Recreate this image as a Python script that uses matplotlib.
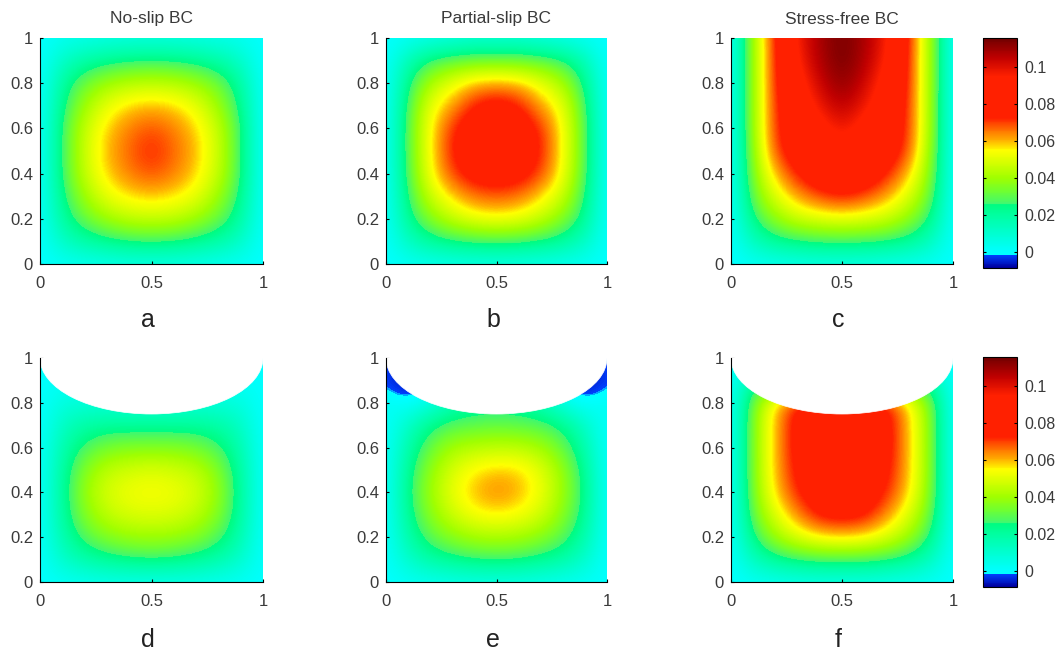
import numpy as np
import matplotlib
matplotlib.use('Agg')
import matplotlib.pyplot as plt
from matplotlib.colors import LinearSegmentedColormap, Normalize
from matplotlib.cm import ScalarMappable
from matplotlib.patches import Ellipse

plt.rcParams['font.family'] = ['Liberation Sans', 'DejaVu Sans']

W, H = 1057, 656
TEXT = '#3a3a3a'

# rows run from y=1 down to y=0, columns from x=0 to x=1, steps of 0.1
panel_a = [
    [0, .003, .004, .005, .006, .006, .006, .005, .004, .003, 0],
    [0, .012, .019, .023, .025, .026, .025, .023, .019, .012, 0],
    [0, .020, .033, .040, .044, .045, .044, .040, .033, .020, 0],
    [0, .024, .040, .052, .058, .060, .058, .052, .040, .024, 0],
    [0, .027, .046, .058, .065, .069, .065, .058, .046, .027, 0],
    [0, .027, .047, .060, .067, .073, .067, .060, .047, .027, 0],
    [0, .027, .046, .058, .065, .069, .065, .058, .046, .027, 0],
    [0, .024, .040, .052, .057, .059, .057, .052, .040, .024, 0],
    [0, .020, .032, .040, .045, .046, .045, .040, .032, .020, 0],
    [0, .012, .019, .023, .026, .027, .026, .023, .019, .012, 0],
    [0, .002, .003, .004, .005, .005, .005, .004, .003, .002, 0],
]
panel_b = [
    [0, .002, .004, .006, .008, .008, .008, .006, .004, .002, 0],
    [0, .016, .027, .031, .033, .033, .033, .031, .027, .016, 0],
    [0, .024, .042, .052, .060, .062, .060, .052, .042, .024, 0],
    [0, .028, .052, .062, .074, .078, .074, .062, .052, .028, 0],
    [0, .030, .055, .072, .080, .082, .080, .072, .055, .030, 0],
    [0, .030, .055, .074, .081, .083, .081, .074, .055, .030, 0],
    [0, .029, .054, .070, .078, .080, .078, .070, .054, .029, 0],
    [0, .026, .047, .058, .066, .068, .066, .058, .047, .026, 0],
    [0, .022, .036, .046, .052, .054, .052, .046, .036, .022, 0],
    [0, .013, .021, .025, .027, .028, .027, .025, .021, .013, 0],
    [0, .002, .003, .004, .005, .005, .005, .004, .003, .002, 0],
]
panel_c = [
    [0, .040, .074, .097, .108, .115, .108, .097, .074, .040, 0],
    [0, .040, .073, .095, .107, .115, .107, .095, .073, .040, 0],
    [0, .040, .073, .090, .103, .112, .103, .090, .073, .040, 0],
    [0, .040, .072, .086, .098, .106, .098, .086, .072, .040, 0],
    [0, .040, .072, .082, .090, .099, .090, .082, .072, .040, 0],
    [0, .038, .070, .080, .085, .090, .085, .080, .070, .038, 0],
    [0, .036, .060, .074, .082, .084, .082, .074, .060, .036, 0],
    [0, .032, .050, .062, .070, .074, .070, .062, .050, .032, 0],
    [0, .025, .038, .047, .050, .052, .050, .047, .038, .025, 0],
    [0, .014, .022, .025, .027, .027, .027, .025, .022, .014, 0],
    [0, .002, .003, .004, .005, .005, .005, .004, .003, .002, 0],
]
panel_d = [
    [0, 0, 0, 0, 0, 0, 0, 0, 0, 0, 0],
    [0, .002, .002, .002, .002, .002, .002, .002, .002, .002, 0],
    [0, .007, .008, .008, .008, .008, .008, .008, .008, .007, 0],
    [0, .013, .019, .021, .021, .021, .021, .021, .019, .013, 0],
    [0, .017, .028, .034, .036, .036, .036, .034, .028, .017, 0],
    [0, .020, .036, .045, .048, .050, .048, .045, .036, .020, 0],
    [0, .021, .039, .049, .053, .054, .053, .049, .039, .021, 0],
    [0, .020, .036, .045, .049, .050, .049, .045, .036, .020, 0],
    [0, .017, .029, .036, .039, .040, .039, .036, .029, .017, 0],
    [0, .011, .018, .022, .025, .026, .025, .022, .018, .011, 0],
    [0, .002, .003, .004, .004, .004, .004, .004, .003, .002, 0],
]
panel_e = [
    [0, -.004, -.004, 0, 0, 0, 0, 0, -.004, -.004, 0],
    [-.003, -.009, -.006, .006, .006, .006, .006, .006, -.006, -.009, -.003],
    [.003, .000, .006, .016, .020, .022, .020, .016, .006, .000, .003],
    [0, .012, .024, .029, .030, .031, .030, .029, .024, .012, 0],
    [0, .018, .032, .041, .044, .045, .045, .041, .032, .018, 0],
    [0, .022, .038, .049, .056, .059, .058, .051, .039, .022, 0],
    [0, .024, .040, .052, .060, .064, .061, .053, .040, .024, 0],
    [0, .022, .037, .047, .054, .056, .054, .048, .037, .022, 0],
    [0, .018, .030, .037, .041, .042, .041, .037, .030, .018, 0],
    [0, .011, .019, .023, .026, .027, .026, .023, .019, .011, 0],
    [0, .002, .003, .004, .005, .005, .005, .004, .003, .002, 0],
]
panel_f = [
    [0, 0, 0, 0, 0, 0, 0, 0, 0, 0, 0],
    [0, .020, .020, .020, .020, .020, .020, .020, .020, .020, 0],
    [0, .034, .058, .075, .080, .080, .080, .075, .058, .034, 0],
    [0, .036, .060, .078, .084, .084, .084, .078, .060, .036, 0],
    [0, .036, .060, .078, .084, .085, .084, .078, .060, .036, 0],
    [0, .036, .060, .076, .082, .083, .082, .076, .060, .036, 0],
    [0, .035, .058, .073, .080, .082, .080, .073, .058, .035, 0],
    [0, .032, .050, .064, .076, .078, .076, .064, .050, .032, 0],
    [0, .025, .040, .050, .056, .058, .056, .050, .040, .025, 0],
    [0, .014, .022, .026, .028, .028, .028, .026, .022, .014, 0],
    [0, .002, .003, .004, .005, .005, .005, .004, .003, .002, 0],
]

titles = ['No-slip BC', 'Partial-slip BC', 'Stress-free BC']
letters = ['a', 'b', 'c', 'd', 'e', 'f']
x_ticks = [0, 0.5, 1]
y_ticks = [0, 0.2, 0.4, 0.6, 0.8, 1]
cbar_ticks = [0, 0.02, 0.04, 0.06, 0.08, 0.1]

# colour bar stops
vmin, vmax = -0.0085, 0.1155
stops = [
    (-0.0085, '#0000a0'), (-0.0019, '#0040ff'), (-0.0015, '#00ffff'),
    (0.0, '#00ffff'), (0.01, '#00ffd0'), (0.02, '#00ffa0'), (0.0255, '#00fc80'),
    (0.026, '#40f870'), (0.033, '#70ff30'), (0.04, '#a0ff00'), (0.05, '#e0ff00'),
    (0.055, '#ffff00'), (0.06, '#ffb400'), (0.066, '#ff7000'), (0.0725, '#ff2000'),
    (0.095, '#ff2000'), (0.105, '#c00000'), (0.1155, '#700000'),
]
cmap = LinearSegmentedColormap.from_list(
    'bc', [((v - vmin) / (vmax - vmin), c) for v, c in stops], N=256)
norm = Normalize(vmin, vmax)


def add_axes(left, right, top, bottom):
    return fig.add_axes([left / W, 1 - bottom / H, (right - left) / W, (bottom - top) / H])


def fmt(v):
    return '%g' % v


def draw_panel(box, values, cut):
    ax = add_axes(*box)
    ax.imshow(np.array(values), cmap=cmap, norm=norm, origin='upper', aspect='auto',
              extent=(-0.05, 1.05, -0.05, 1.05), interpolation='bicubic',
              interpolation_stage='data')
    ax.set_xlim(0, 1)
    ax.set_ylim(0, 1)
    if cut:
        # the domain is cut along a half ellipse at the top
        ax.add_patch(Ellipse((0.5, 1), 1, 0.5, fc='white', ec='white', lw=0.5, zorder=2))
    ax.spines['top'].set_visible(False)
    ax.spines['right'].set_visible(False)
    ax.set_xticks(x_ticks, [fmt(v) for v in x_ticks])
    ax.set_yticks(y_ticks, [fmt(v) for v in y_ticks])
    ax.tick_params(direction='in', length=2.5, width=0.8, labelsize=12,
                   labelcolor=TEXT, pad=5)
    ax.tick_params(axis='x', pad=9)
    return ax


def draw_cbar(box):
    cax = add_axes(*box)
    cb = fig.colorbar(ScalarMappable(norm=norm, cmap=cmap), cax=cax, ticks=cbar_ticks)
    cb.ax.set_yticklabels([fmt(v) for v in cbar_ticks])
    cb.ax.tick_params(direction='in', length=2.5, width=0.8, labelsize=11.5,
                      labelcolor=TEXT, left=True, right=True, pad=5)
    cb.outline.set_linewidth(0.8)


fig = plt.figure(figsize=(W / 100, H / 100), dpi=100)

lefts = [(40, 263), (386, 607), (731, 953)]
rows = [(38, 264), (358, 582)]
panels = [panel_a, panel_b, panel_c, panel_d, panel_e, panel_f]
centers = [148, 493, 838]
letter_y = [320, 640]

for r, (top, bottom) in enumerate(rows):
    for c, (left, right) in enumerate(lefts):
        draw_panel((left, right, top, bottom), panels[r * 3 + c], r == 1)
        fig.text(centers[c] / W, 1 - letter_y[r] / H, letters[r * 3 + c], fontsize=18,
                 color='#222222', ha='center', va='center')

for c, (left, right) in enumerate(lefts):
    fig.text((left + right) / 2 / W, 1 - 19 / H, titles[c], fontsize=12.5, color=TEXT,
             ha='center', va='center')

draw_cbar((983, 1017, 38, 268))
draw_cbar((983, 1017, 357, 587))

fig.savefig('out.png', dpi=100)
